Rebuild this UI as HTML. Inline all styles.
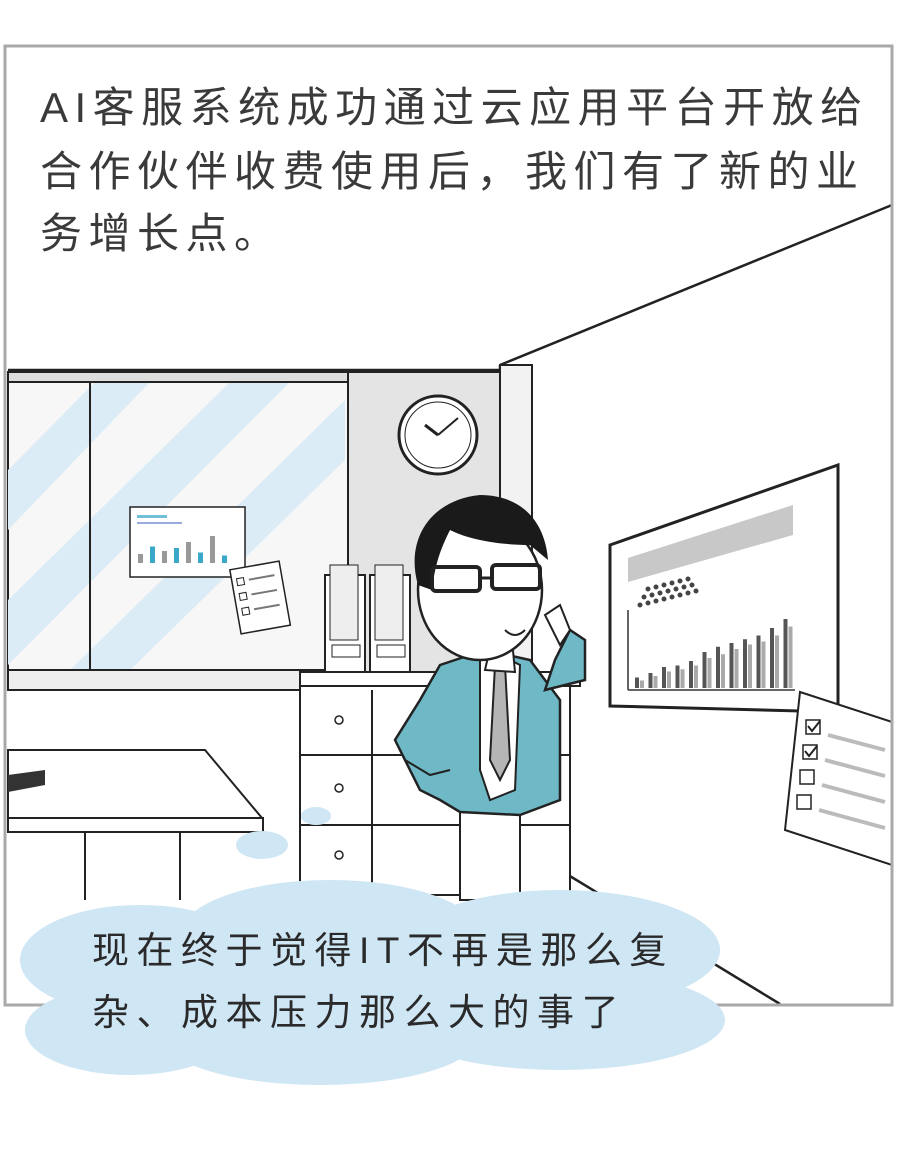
<!DOCTYPE html>
<html><head><meta charset="utf-8">
<style>
html,body{margin:0;padding:0;background:#fff;}
body{width:900px;height:1161px;overflow:hidden;font-family:"Liberation Sans","Noto Sans CJK SC",sans-serif;}
svg{display:block}
.cap{font-family:"Liberation Sans","Noto Sans CJK SC",sans-serif;font-size:42px;fill:#3a3a3a;letter-spacing:6.5px}
.bub{font-family:"Liberation Sans","Noto Sans CJK SC",sans-serif;font-size:37px;fill:#2a2a2a;letter-spacing:7.5px}
</style></head><body>
<svg id="scene" width="900" height="1161" viewBox="0 0 900 1161">
<defs>
<clipPath id="winclip"><rect x="8" y="382" width="337" height="292"/></clipPath>
<clipPath id="frameclip"><rect x="6" y="47" width="885" height="957"/></clipPath>
</defs>
<g clip-path="url(#frameclip)">
<g>
<line x1="500" y1="365" x2="892" y2="205" stroke="#222" stroke-width="2.5"/>
<line x1="500" y1="365" x2="500" y2="900" stroke="#222" stroke-width="2.5"/>
<line x1="532" y1="372" x2="532" y2="900" stroke="#222" stroke-width="2"/>
<line x1="8" y1="370" x2="500" y2="370" stroke="#222" stroke-width="2.5"/>
<rect x="345" y="372" width="155" height="330" fill="#e4e4e4" stroke="#222" stroke-width="2"/>
<rect x="500" y="365" width="32" height="535" fill="#f2f2f2" stroke="#222" stroke-width="2"/>
<line x1="560" y1="870" x2="780" y2="1004" stroke="#222" stroke-width="2.5"/>
</g>
<g>
<rect x="8" y="372" width="340" height="308" fill="#f7f7f7" stroke="#222" stroke-width="2"/>
<g clip-path="url(#winclip)">
<polygon points="8,470 95,382 150,382 8,530" fill="#dcecf6"/>
<polygon points="8,600 230,382 290,382 8,665" fill="#dcecf6"/>
<polygon points="60,680 345,400 345,460 120,680" fill="#dcecf6"/>
</g>
<rect x="8" y="372" width="340" height="10" fill="#ddd" stroke="#222" stroke-width="2"/>
<line x1="90" y1="382" x2="90" y2="672" stroke="#222" stroke-width="2"/>
<rect x="8" y="670" width="340" height="20" fill="#eee" stroke="#222" stroke-width="2"/>
</g>
<g id="wallchart">
<rect x="130" y="507" width="115" height="70" fill="#fff" stroke="#222" stroke-width="1.5"/>
<rect x="137" y="515" width="30" height="3" fill="#6fc0d8"/>
<rect x="137" y="522" width="45" height="2" fill="#9ad"/>
</g>
<g transform="rotate(-10 260 597)">
<rect x="235" y="565" width="50" height="65" fill="#fff" stroke="#222" stroke-width="1.5"/>
<rect x="240" y="575" width="7" height="7" fill="none" stroke="#222"/><line x1="252" y1="578" x2="278" y2="578" stroke="#777" stroke-width="2"/>
<rect x="240" y="590" width="7" height="7" fill="none" stroke="#222"/><line x1="252" y1="593" x2="278" y2="593" stroke="#777" stroke-width="2"/>
<rect x="240" y="605" width="7" height="7" fill="none" stroke="#222"/><line x1="252" y1="608" x2="278" y2="608" stroke="#777" stroke-width="2"/>
</g>
<g>
<circle cx="438" cy="435" r="39" fill="#fff" stroke="#222" stroke-width="3"/>
<circle cx="438" cy="435" r="33" fill="none" stroke="#222" stroke-width="1"/>
<line x1="438" y1="435" x2="425" y2="425" stroke="#222" stroke-width="3"/>
<line x1="438" y1="435" x2="458" y2="418" stroke="#222" stroke-width="2"/>
</g>
<g>
<rect x="325" y="575" width="40" height="108" fill="#fff" stroke="#222" stroke-width="2"/>
<rect x="370" y="575" width="40" height="108" fill="#fff" stroke="#222" stroke-width="2"/>
<rect x="330" y="565" width="28" height="75" fill="#eee" stroke="#222"/>
<rect x="375" y="565" width="28" height="75" fill="#eee" stroke="#222"/>
<rect x="332" y="645" width="28" height="12" fill="none" stroke="#222"/>
<rect x="377" y="645" width="28" height="12" fill="none" stroke="#222"/>
</g>
<g>
<rect x="300" y="680" width="270" height="215" fill="#fff" stroke="#222" stroke-width="2"/>
<rect x="300" y="672" width="280" height="14" fill="#fff" stroke="#222" stroke-width="2"/>
<line x1="372" y1="690" x2="372" y2="895" stroke="#222" stroke-width="2"/>
<line x1="300" y1="755" x2="570" y2="755" stroke="#222" stroke-width="2"/>
<line x1="300" y1="825" x2="570" y2="825" stroke="#222" stroke-width="2"/>
<circle cx="339" cy="720" r="4" fill="none" stroke="#222" stroke-width="1.5"/>
<circle cx="339" cy="788" r="4" fill="none" stroke="#222" stroke-width="1.5"/>
<circle cx="339" cy="855" r="4" fill="none" stroke="#222" stroke-width="1.5"/>
</g>
<g>
<polygon points="8,750 205,750 262,818 8,818" fill="#fff" stroke="#222" stroke-width="2"/>
<rect x="8" y="818" width="255" height="14" fill="#fff" stroke="#222" stroke-width="2"/>
<line x1="85" y1="832" x2="85" y2="900" stroke="#222" stroke-width="2"/>
<line x1="180" y1="832" x2="180" y2="900" stroke="#222" stroke-width="2"/>
<polygon points="8,775 45,770 45,785 8,792" fill="#333"/>
<ellipse cx="316" cy="816" rx="15" ry="9" fill="#cfe6f5"/>
<ellipse cx="262" cy="845" rx="26" ry="14" fill="#cfe6f5"/>
</g>
<g id="board">
<polygon points="610,545 838,465 838,712 610,706" fill="#fff" stroke="#222" stroke-width="3"/>
<polygon points="628,558 793,505 793,535 628,582" fill="#c8c8c8"/>
<line x1="628" y1="610" x2="628" y2="690" stroke="#333" stroke-width="1.5"/>
<line x1="628" y1="690" x2="795" y2="690" stroke="#333" stroke-width="1.5"/>
</g>
<g>
<polygon points="800,692 892,722 892,865 785,830" fill="#fff" stroke="#222" stroke-width="2"/>
<rect x="806" y="720" width="14" height="14" fill="none" stroke="#222" stroke-width="1.5"/>
<rect x="803" y="745" width="14" height="14" fill="none" stroke="#222" stroke-width="1.5"/>
<rect x="800" y="770" width="14" height="14" fill="none" stroke="#222" stroke-width="1.5"/>
<rect x="797" y="795" width="14" height="14" fill="none" stroke="#222" stroke-width="1.5"/>
<path d="M808 726 l4 5 l8 -10 M805 751 l4 5 l8 -10" stroke="#222" stroke-width="2" fill="none"/>
<line x1="828" y1="735" x2="885" y2="750" stroke="#bbb" stroke-width="4"/>
<line x1="825" y1="760" x2="885" y2="776" stroke="#bbb" stroke-width="4"/>
<line x1="822" y1="785" x2="885" y2="802" stroke="#bbb" stroke-width="4"/>
<line x1="819" y1="810" x2="885" y2="828" stroke="#bbb" stroke-width="4"/>
</g>
<g>
<rect x="460" y="800" width="60" height="100" fill="#fff" stroke="#222" stroke-width="2"/>
<path d="M440 665 L485 650 L530 660 L560 700 L560 800 L520 815 L460 812 L440 800 L420 790 L395 740 L420 700 Z" fill="#6fb8c6" stroke="#222" stroke-width="2.5"/>
<path d="M480 660 L500 655 L520 665 L515 790 L490 800 L480 770 Z" fill="#fff" stroke="#222" stroke-width="2"/>
<path d="M495 665 L505 665 L510 760 L500 780 L490 760 Z" fill="#b5b5b5" stroke="#222" stroke-width="2"/>
<path d="M545 690 L585 680 L585 640 L570 630 L555 660 Z" fill="#6fb8c6" stroke="#222" stroke-width="2.5"/>
<path d="M570 630 L560 605 L545 615 L560 645 Z" fill="#fff" stroke="#222" stroke-width="2"/>
<path d="M490 648 L485 670 L515 672 L512 640 Z" fill="#fff" stroke="#222" stroke-width="2"/>
<ellipse cx="480" cy="590" rx="62" ry="70" fill="#fff" stroke="#222" stroke-width="2.5"/>
<path d="M418 585 C405 540 430 500 480 495 C520 495 545 520 548 560 L530 545 C500 545 470 540 450 530 C440 550 435 565 432 590 Z" fill="#1a1a1a"/>
<rect x="432" y="567" width="48" height="24" rx="4" fill="none" stroke="#222" stroke-width="4"/>
<rect x="492" y="565" width="48" height="24" rx="4" fill="none" stroke="#222" stroke-width="4"/>
<line x1="480" y1="578" x2="492" y2="578" stroke="#222" stroke-width="3"/>
<path d="M505 630 Q515 640 525 630" stroke="#222" stroke-width="2" fill="none"/>
<path d="M405 760 L430 775 L450 770" stroke="#222" stroke-width="2" fill="none"/>
</g>
<g fill="#cfe6f5">
<ellipse cx="140" cy="960" rx="120" ry="55"/>
<ellipse cx="330" cy="935" rx="150" ry="55"/>
<ellipse cx="560" cy="950" rx="160" ry="60"/>
<ellipse cx="130" cy="1030" rx="105" ry="45"/>
<ellipse cx="320" cy="1035" rx="160" ry="50"/>
<ellipse cx="560" cy="1020" rx="165" ry="50"/>
<rect x="90" y="930" width="560" height="110"/>
</g>
</g>
<rect x="5" y="46" width="887" height="959" fill="none" stroke="#a9a9a9" stroke-width="3"/>
<g fill="#cfe6f5">
<ellipse cx="130" cy="1030" rx="105" ry="45"/>
<ellipse cx="320" cy="1035" rx="160" ry="50"/>
<ellipse cx="560" cy="1020" rx="165" ry="50"/>
<rect x="60" y="1000" width="620" height="30"/>
</g>
<g>
<text class="cap" x="40" y="122">AI客服系统成功通过云应用平台开放给</text>
<text class="cap" x="40" y="186">合作伙伴收费使用后，我们有了新的业</text>
<text class="cap" x="40" y="248">务增长点。</text>
</g>
<g>
<text class="bub" x="92" y="963">现在终于觉得IT不再是那么复</text>
<text class="bub" x="92" y="1025">杂、成本压力那么大的事了</text>
</g>
</svg>
<script>
const boardValA=[14,20,28,30,36,48,55,60,65,70,80,92];
const boardValB=[10,16,22,25,30,40,45,52,58,62,70,82];
const wallVals=[30,55,40,50,70,35,90,25];
const dotRows=[8,7,6];
const NS='http://www.w3.org/2000/svg';
const board=document.getElementById('board');
const bx=x=>635+x*13.5, by=v=>688-v*0.75;
boardValA.forEach((v,i)=>{
  const r=document.createElementNS(NS,'rect');
  r.setAttribute('x',bx(i));r.setAttribute('y',by(v));r.setAttribute('width',4);r.setAttribute('height',688-by(v));r.setAttribute('fill','#555');
  
  
  board.appendChild(r);
  const w=boardValB[i];
  const s=document.createElementNS(NS,'rect');
  s.setAttribute('x',bx(i)+5);s.setAttribute('y',by(w));s.setAttribute('width',4);s.setAttribute('height',688-by(w));s.setAttribute('fill','#aaa');
  
  
  board.appendChild(s);
});
dotRows.forEach((n,row)=>{for(let k=0;k<n;k++){
  const c=document.createElementNS(NS,'circle');
  c.setAttribute('cx',640+k*8+row*4);c.setAttribute('cy',605-row*8+(-k*2));c.setAttribute('r',2.5);c.setAttribute('fill','#444');
  
  
  board.appendChild(c);
}});
const wc=document.getElementById('wallchart');
wallVals.forEach((v,i)=>{
  const h=v*0.3;
  const r=document.createElementNS(NS,'rect');
  r.setAttribute('x',138+i*12);r.setAttribute('y',563-h);r.setAttribute('width',5);r.setAttribute('height',h);r.setAttribute('fill',i%2?'#3aa8c8':'#999');
  
  
  wc.appendChild(r);
});
</script>
</body></html>
